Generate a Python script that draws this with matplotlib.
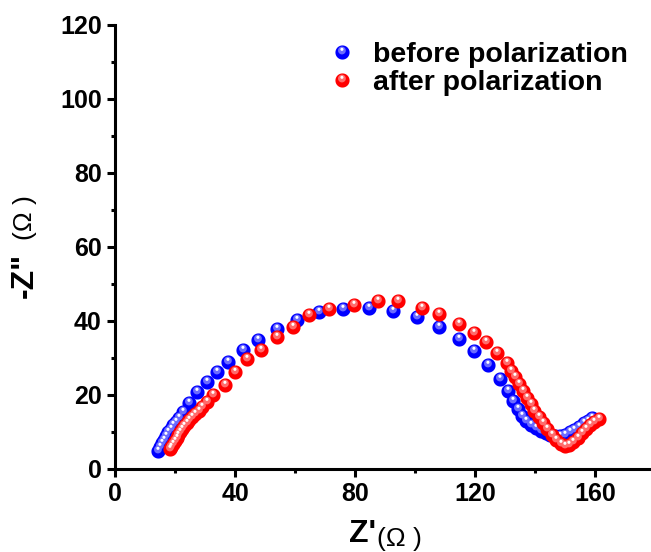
import numpy as np
import matplotlib.pyplot as plt
from matplotlib.path import Path
from matplotlib.legend_handler import HandlerTuple

# --- DATA ---
before_x = [14.4, 14.9, 15.5, 16.2, 16.9, 17.7, 18.5, 19.4, 20.3, 21.3,
            22.6, 24.6, 27.2, 30.6, 34.0, 37.8, 42.8, 47.8, 53.9, 60.6,
            68.0, 76.1, 84.7, 92.8, 100.6, 107.9, 114.8, 119.8, 124.4, 128.2,
            131.0, 132.8, 134.4, 135.7, 137.1, 138.7, 140.3, 141.9, 143.5, 145.1,
            146.7, 148.3, 149.9, 151.5, 153.1, 154.7, 156.3, 157.8, 159.0]
before_y = [5.0, 5.9, 6.9, 7.9, 8.9, 9.9, 10.9, 11.9, 12.8, 13.8,
            15.3, 17.9, 20.8, 23.4, 26.1, 28.8, 32.1, 35.0, 37.9, 40.4,
            42.3, 43.3, 43.5, 42.6, 41.0, 38.3, 35.2, 31.9, 28.0, 24.3,
            21.0, 18.3, 16.1, 14.3, 12.9, 11.8, 11.0, 10.3, 9.7, 9.2,
            9.0, 9.0, 9.3, 9.9, 10.6, 11.4, 12.3, 13.1, 13.8]

after_x = [18.3, 18.8, 19.3, 19.9, 20.5, 21.1, 21.7, 22.4, 23.1, 23.9,
           24.8, 25.8, 26.8, 27.9, 29.1, 30.5, 32.5, 36.5, 40.0, 43.9,
           48.8, 53.9, 59.2, 64.7, 71.3, 79.8, 87.8, 94.4, 102.4, 107.9,
           114.6, 119.7, 123.8, 127.5, 130.6, 132.0, 133.3, 134.6, 135.9, 137.2,
           138.5, 139.8, 141.2, 142.6, 144.0, 145.5, 147.0, 148.5, 150.0, 151.4,
           152.8, 154.2, 155.6, 157.0, 158.4, 159.8, 161.2]
after_y = [5.3, 6.0, 6.8, 7.6, 8.4, 9.2, 10.0, 10.8, 11.6, 12.4,
           13.2, 14.0, 14.9, 15.8, 16.8, 18.0, 20.0, 22.8, 26.2, 29.7,
           32.2, 35.6, 38.3, 41.5, 43.3, 44.4, 45.3, 45.4, 43.6, 41.8,
           39.3, 36.7, 34.2, 31.3, 28.6, 26.6, 24.8, 22.9, 21.1, 19.3,
           17.5, 15.8, 14.0, 12.4, 10.8, 9.3, 7.9, 6.8, 6.2, 6.5,
           7.4, 8.5, 9.6, 10.8, 11.9, 12.8, 13.6]

series = [
    ("before polarization", before_x, before_y, "#0000ff", "#6b6bff"),
    ("after polarization", after_x, after_y, "#ff0000", "#ff6b6b"),
]

plt.rcParams['font.family'] = ['Liberation Sans', 'DejaVu Sans']


# --- SPHERE-LOOKING MARKERS ---
def circle_marker(r, cx, cy):
    # circle of radius r at (cx, cy) plus an invisible anchor so the
    # marker keeps the same scale as the unit base circle
    t = np.linspace(0, 2 * np.pi, 40)
    verts = list(zip(cx + r * np.cos(t), cy + r * np.sin(t)))
    codes = [Path.MOVETO] + [Path.LINETO] * (len(verts) - 2) + [Path.CLOSEPOLY]
    verts += [(1.0, 0.0), (1.0, 0.0)]
    codes += [Path.MOVETO, Path.LINETO]
    return Path(verts, codes)


base_m = circle_marker(1.0, 0.0, 0.0)
mid_m = circle_marker(0.55, -0.08, 0.28)
hi_m = circle_marker(0.22, -0.08, 0.45)

fig = plt.figure(figsize=(6.51, 5.52), dpi=100)
ax = fig.add_axes([115 / 651, 83 / 552, 540 / 651, 444 / 552])

ms = 10.2
handles = []
for label, xs, ys, c, c2 in series:
    h1, = ax.plot(xs, ys, ls='none', marker=base_m, ms=ms, mfc=c, mec='none')
    h2, = ax.plot(xs, ys, ls='none', marker=mid_m, ms=ms, mfc=c2, mec='none')
    h3, = ax.plot(xs, ys, ls='none', marker=hi_m, ms=ms, mfc='white', mec='none')
    handles.append(((h1, h2, h3), label))

ax.set_xlim(0, 180)
ax.set_ylim(0, 120)
ax.set_xticks([0, 40, 80, 120, 160])
ax.set_xticks([20, 60, 100, 140, 180], minor=True)
ax.set_yticks(range(0, 121, 20))
ax.set_yticks(range(10, 120, 20), minor=True)

for s in ['top', 'right']:
    ax.spines[s].set_visible(False)
for s in ['left', 'bottom']:
    ax.spines[s].set_linewidth(2.2)

ax.tick_params(which='major', direction='out', length=5.5, width=2.2,
               labelsize=18, pad=4)
ax.tick_params(which='minor', direction='out', length=3, width=2.2)
for lab in ax.get_xticklabels() + ax.get_yticklabels():
    lab.set_fontweight('bold')

# axis labels: bold symbol + plain unit
fig.text(376 / 651, 3 / 552, "Z'", fontsize=23, fontweight='bold',
         ha='right', va='bottom')
fig.text(377 / 651, 1 / 552, "(Ω )", fontsize=19, ha='left', va='bottom')
fig.text(10 / 651, (552 - 298) / 552, '-Z"', fontsize=23, fontweight='bold',
         rotation=90, ha='left', va='bottom')
fig.text(13 / 651, (552 - 240) / 552, "(Ω )", fontsize=19,
         rotation=90, ha='left', va='bottom')

ax.legend([h for h, _ in handles], [l for _, l in handles],
          handler_map={tuple: HandlerTuple(ndivide=1, pad=0)},
          loc='upper left', bbox_to_anchor=(0.362, 1.0), frameon=False,
          prop={'size': 20.5, 'weight': 'bold'}, handlelength=1.0,
          handletextpad=0.6, labelspacing=0.05, borderpad=0.1)

plt.savefig("out.png", dpi=100)
